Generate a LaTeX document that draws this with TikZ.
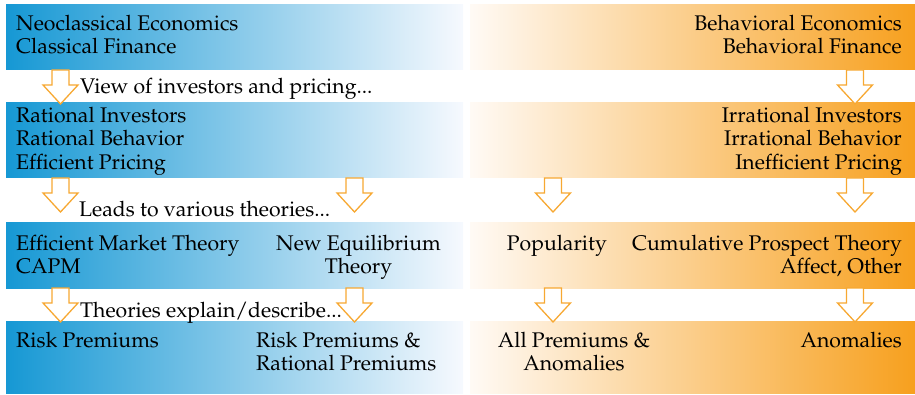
\documentclass[tikz,border=0pt]{standalone}
\usepackage[T1]{fontenc}
\usepackage{mathpazo}
\usepackage{xcolor}
\usepackage{tikz}
\usetikzlibrary{calc}

\definecolor{bandblue}{RGB}{22,152,212}
\definecolor{bandbluemid}{RGB}{132,184,228}
\definecolor{bandbluepale}{RGB}{246,249,254}
\definecolor{bandorange}{RGB}{247,160,30}
\definecolor{bandorangemid}{RGB}{252,206,140}
\definecolor{bandorangepale}{RGB}{255,250,245}
\definecolor{arrowor}{RGB}{247,168,50}

\begin{document}
\begin{tikzpicture}[
  x=1pt, y=-1pt,
  font=\fontsize{21.2}{23.5}\selectfont,
  blueband/.style={
    inner sep=0pt,
    outer sep=0pt,
    minimum width=457pt,
    left color=bandblue,
    middle color=bandbluemid,
    right color=bandbluepale
  },
  orangeband/.style={
    inner sep=0pt,
    outer sep=0pt,
    minimum width=445pt,
    left color=bandorangepale,
    middle color=bandorangemid,
    right color=bandorange
  },
  txt/.style={
    inner sep=0pt
  },
  blockarr/.style={
    draw=arrowor,
    fill=white,
    line width=1.3pt,
    to path={
      let \p1=(\tikztostart) in
      (\x1-8.5pt,\y1) -- (\x1-8.5pt,\y1-15pt) -- (\x1-17.5pt,\y1-15pt)
      -- (\x1,\y1-34pt)
      -- (\x1+17.5pt,\y1-15pt) -- (\x1+8.5pt,\y1-15pt) -- (\x1+8.5pt,\y1) -- cycle
    }
  }
]
\useasboundingbox (0,0) rectangle (915,395);

%---------------------------------
% Bands
%---------------------------------
\node[blueband,   minimum height=65pt] (econl) at (234.5,37.5) {};
\node[orangeband, minimum height=65pt] (econr) at (692.5,37.5) {};

\node[blueband,   minimum height=75pt] (viewl) at (234.5,140.5) {};
\node[orangeband, minimum height=75pt] (viewr) at (692.5,140.5) {};

\node[blueband,   minimum height=65pt] (theol) at (234.5,255.5) {};
\node[orangeband, minimum height=65pt] (theor) at (692.5,255.5) {};

\node[blueband,   minimum height=72pt] (preml) at (234.5,357) {};
\node[orangeband, minimum height=72pt] (premr) at (692.5,357) {};

%---------------------------------
% Texts
%---------------------------------
\node[txt, anchor=north west, align=left]  (neotxt) at (16,14.8)
{Neoclassical Economics\\Classical Finance};
\node[txt, anchor=north east, align=right] (behtxt) at (902,14.8)
{Behavioral Economics\\Behavioral Finance};

\node[txt, anchor=base west] (viewlbl) at (80,94) {View of investors and pricing...};

\node[txt, anchor=north west, align=left]  (rattxt) at (16,106.8)
{Rational Investors\\Rational Behavior\\Efficient Pricing};
\node[txt, anchor=north east, align=right] (irrtxt) at (902,106.8)
{Irrational Investors\\Irrational Behavior\\Inefficient Pricing};

\node[txt, anchor=base west] (leadlbl) at (79,217) {Leads to various theories...};

\node[txt, anchor=north west, align=left]   (emttxt) at (16,234.8)
{Efficient Market Theory\\CAPM};
\node[txt, anchor=north east, align=center] (neqtxt) at (441,234.8)
{New Equilibrium\\Theory};
\node[txt, anchor=north east]               (poptxt) at (607,234.8) {Popularity};
\node[txt, anchor=north east, align=right]  (cpttxt) at (902,234.8)
{Cumulative Prospect Theory\\Affect, Other};

\node[txt, anchor=base west] (explbl) at (80,317) {Theories explain/describe...};

\node[txt, anchor=north west]               (risktxt) at (16,331.8) {Risk Premiums};
\node[txt, anchor=north west, align=left]   (ratptxt) at (256,331.8)
{Risk Premiums \&\\Rational Premiums};
\node[txt, anchor=north, align=center]      (alltxt)  at (574,331.8)
{All Premiums \&\\Anomalies};
\node[txt, anchor=north east]               (anomtxt) at (902,331.8) {Anomalies};

%---------------------------------
% Arrows
%---------------------------------
\coordinate (colA) at (60.5,0);
\coordinate (colB) at (354.5,0);
\coordinate (colC) at (553,0);
\coordinate (colD) at (855,0);

\draw[blockarr] (colA |- econl.south) to (colA |- viewl.north);
\draw[blockarr] (colD |- econr.south) to (colD |- viewr.north);

\draw[blockarr] (colA |- viewl.south) to (colA |- theol.north);
\draw[blockarr] (colB |- viewl.south) to (colB |- theol.north);
\draw[blockarr] (colC |- viewr.south) to (colC |- theor.north);
\draw[blockarr] (colD |- viewr.south) to (colD |- theor.north);

\draw[blockarr] (colA |- theol.south) to (colA |- preml.north);
\draw[blockarr] (colB |- theol.south) to (colB |- preml.north);
\draw[blockarr] (colC |- theor.south) to (colC |- premr.north);
\draw[blockarr] (colD |- theor.south) to (colD |- premr.north);

\end{tikzpicture}
\end{document}
